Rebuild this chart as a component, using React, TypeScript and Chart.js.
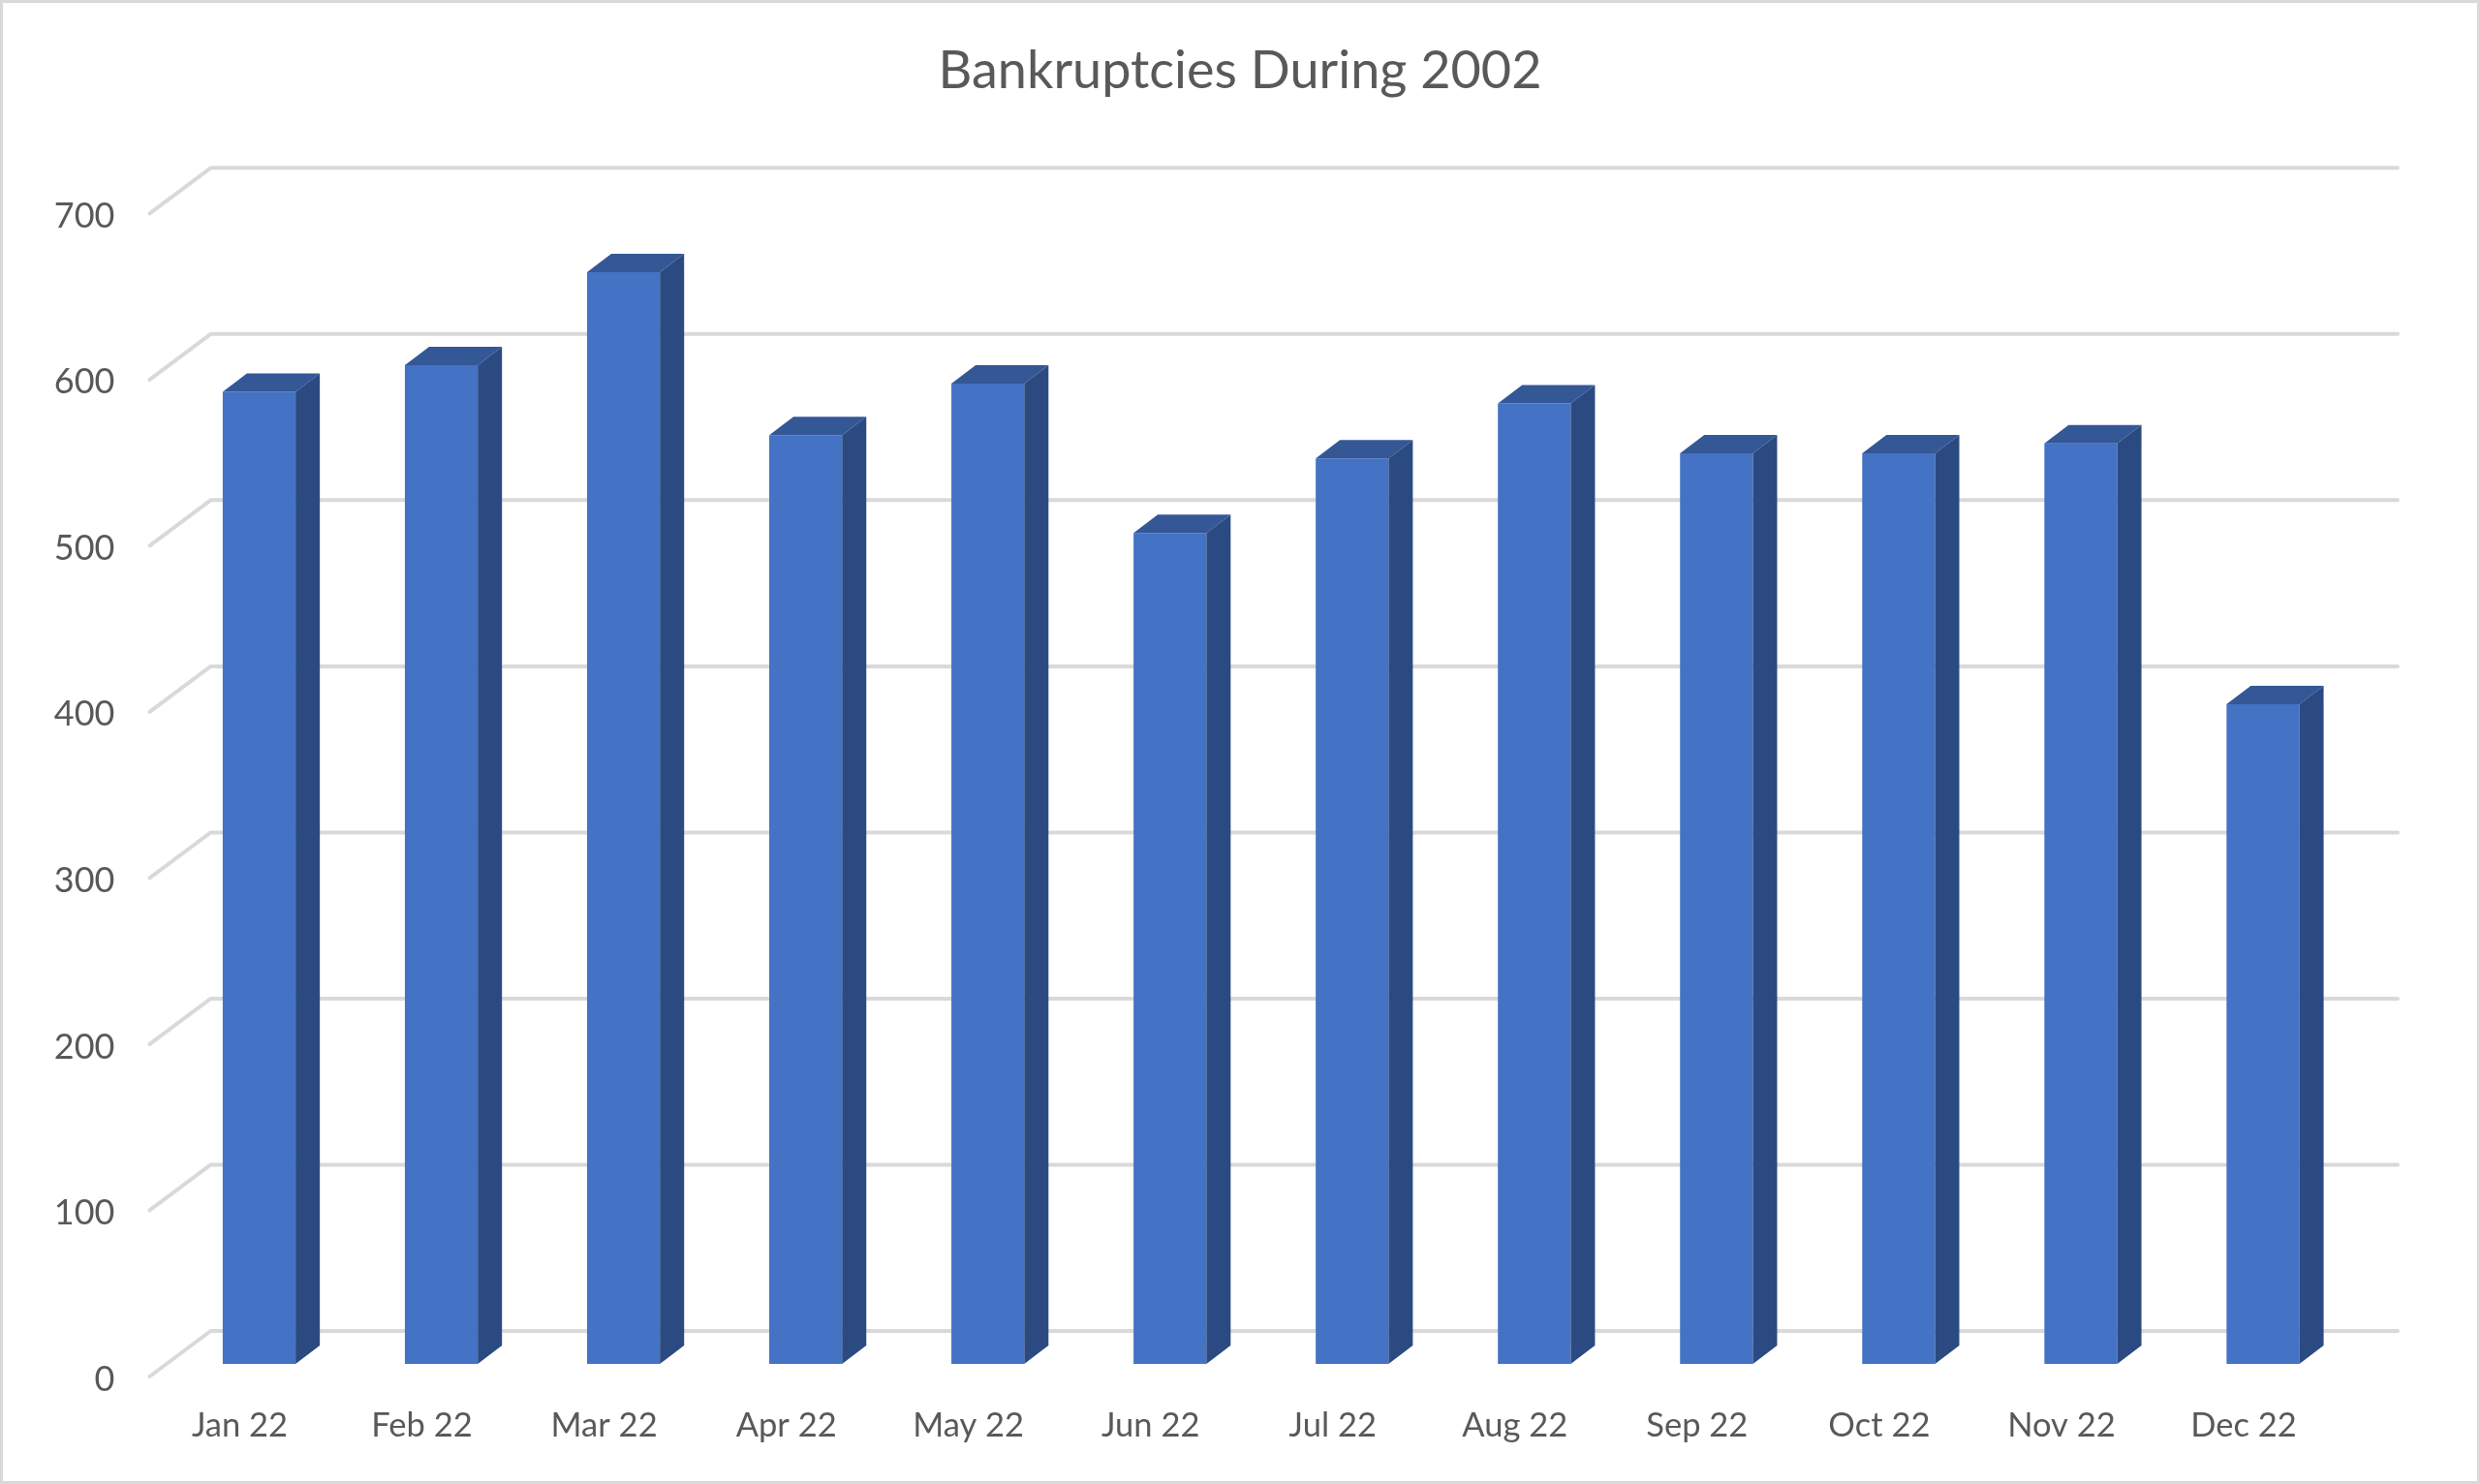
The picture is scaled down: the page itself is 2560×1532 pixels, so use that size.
import React, { useEffect, useRef } from 'react';
import { Chart, registerables } from 'chart.js';

Chart.register(...registerables);

const months = ['Jan 22', 'Feb 22', 'Mar 22', 'Apr 22', 'May 22', 'Jun 22', 'Jul 22', 'Aug 22', 'Sep 22', 'Oct 22', 'Nov 22', 'Dec 22'];
const bankruptcies = [585, 601, 657, 559, 590, 500, 545, 578, 548, 548, 554, 397];
const chartTitle = 'Bankruptcies During 2002';

const FONT = 'Lato, Carlito, "Open Sans", sans-serif';
const TEXT = '#595959';
const GRID = '#d9d9d9';
const FRONT = '#4472c4';
const TOP = '#345796';
const SIDE = '#2b4a82';

// fake 3d: bars get a top and a side face, gridlines go on a back wall
const wall = {
  id: 'wall',
  beforeDatasetsDraw(chart: any) {
    const { ctx, chartArea, scales } = chart;
    ctx.save();
    ctx.strokeStyle = GRID;
    ctx.lineWidth = 4;
    ctx.lineCap = 'round';
    ctx.lineJoin = 'round';
    scales.y.ticks.forEach((t: any) => {
      const y = scales.y.getPixelForValue(t.value);
      ctx.beginPath();
      ctx.moveTo(chartArea.left - 19, y + 13);
      ctx.lineTo(chartArea.left + 44, y - 34);
      ctx.lineTo(chartArea.right + 45, y - 34);
      ctx.stroke();
    });
    ctx.restore();
  },
};

const faces = {
  id: 'faces',
  afterDatasetsDraw(chart: any) {
    const { ctx } = chart;
    const dx = 25;
    const dy = 19;
    ctx.save();
    chart.getDatasetMeta(0).data.forEach((bar: any) => {
      const { x, y, base, width } = bar.getProps(['x', 'y', 'base', 'width'], true);
      const l = x - width / 2;
      const r = x + width / 2;
      ctx.fillStyle = TOP;
      ctx.beginPath();
      ctx.moveTo(l, y);
      ctx.lineTo(r, y);
      ctx.lineTo(r + dx, y - dy);
      ctx.lineTo(l + dx, y - dy);
      ctx.closePath();
      ctx.fill();
      ctx.fillStyle = SIDE;
      ctx.beginPath();
      ctx.moveTo(r, y);
      ctx.lineTo(r + dx, y - dy);
      ctx.lineTo(r + dx, base - dy);
      ctx.lineTo(r, base);
      ctx.closePath();
      ctx.fill();
    });
    ctx.restore();
  },
};

const App: React.FC = () => {
  const canvasRef = useRef<HTMLCanvasElement>(null);

  useEffect(() => {
    document.body.style.margin = '0';
    if (!canvasRef.current) return;
    const chart = new Chart(canvasRef.current, {
      type: 'bar',
      data: {
        labels: months,
        datasets: [{
          data: bankruptcies,
          backgroundColor: FRONT,
          barPercentage: 0.4,
          categoryPercentage: 1,
        }],
      },
      options: {
        responsive: false,
        animation: false,
        devicePixelRatio: 1,
        plugins: {
          legend: { display: false },
          tooltip: { enabled: false },
          title: {
            display: true,
            text: chartTitle,
            color: TEXT,
            font: { family: FONT, size: 54, weight: 'normal' },
            padding: { top: 41, bottom: 101.5 },
          },
        },
        scales: {
          x: {
            grid: { display: false, drawTicks: false },
            border: { display: false },
            ticks: {
              color: TEXT,
              font: { family: FONT, size: 34.5 },
              padding: 43,
              labelOffset: -20,
              maxRotation: 0,
              autoSkip: false,
            },
            afterFit: (scale: any) => { scale.height = 124; },
          },
          y: {
            min: 0,
            max: 700,
            grid: { display: false, drawTicks: false },
            border: { display: false },
            ticks: {
              stepSize: 100,
              color: TEXT,
              font: { family: FONT, size: 36 },
              padding: 55,
              labelOffset: 16,
            },
            afterFit: (scale: any) => { scale.width = 173.5; },
          },
          // empty axis, only keeps room on the right so the title stays centred on the page
          spacer: {
            position: 'right',
            grid: { display: false, drawTicks: false },
            border: { display: false },
            ticks: { display: false },
            afterFit: (scale: any) => { scale.width = 130; },
          },
        },
      },
      plugins: [wall, faces],
    });
    return () => chart.destroy();
  }, []);

  return (
    <div style={{ position: 'relative', width: 2560, height: 1532, background: '#fff' }}>
      <canvas ref={canvasRef} width={2560} height={1532} style={{ display: 'block' }} />
      <div style={{ position: 'absolute', inset: 0, border: '3px solid #d9d9d9', boxSizing: 'border-box', pointerEvents: 'none' }} />
    </div>
  );
};

export default App;
